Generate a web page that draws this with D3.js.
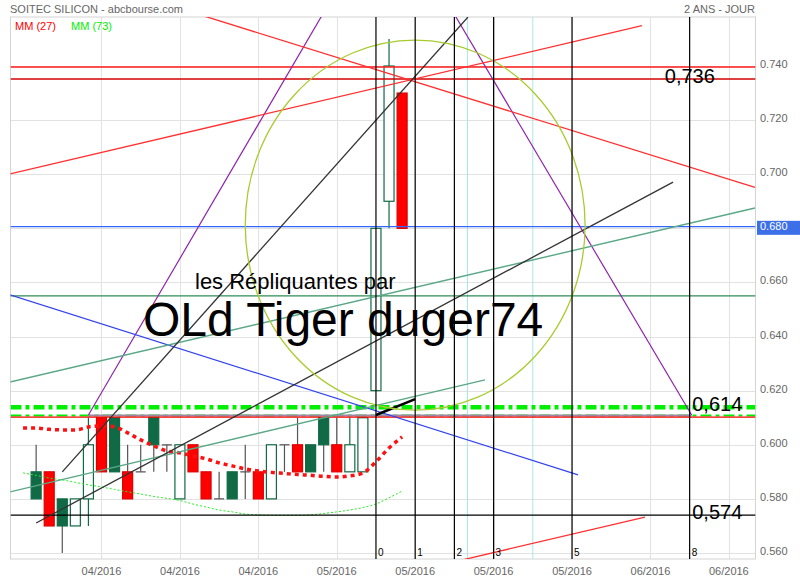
<!DOCTYPE html>
<html><head><meta charset="utf-8">
<script src="https://cdn.jsdelivr.net/npm/d3@7"></script>
<style>body{margin:0;background:#fff;} text{font-family:"Liberation Sans",Arial,sans-serif;}</style>
</head><body><svg id="c" width="800" height="580"></svg>
<script>
// ---------- data ----------
const title = "SOITEC SILICON - abcbourse.com";
const period = "2 ANS - JOUR";
const legendNames = ["MM (27)", "MM (73)"];
const openP  = [0.59,0.59,0.58,0.57,0.58,0.61,0.61,0.59,0.59,0.61,0.60,0.58,0.60,0.59,0.58,0.59,0.59,0.59,0.58,0.60,0.60,0.60,0.61,0.60,0.59,0.59,0.62,0.69,0.73];
const highP  = [0.60,0.59,0.58,0.58,0.61,0.61,0.61,0.60,0.60,0.61,0.60,0.60,0.60,0.59,0.59,0.59,0.60,0.59,0.60,0.60,0.61,0.60,0.61,0.61,0.61,0.61,0.68,0.75,0.73];
const lowP   = [0.58,0.57,0.56,0.57,0.57,0.59,0.59,0.58,0.59,0.59,0.59,0.58,0.59,0.58,0.58,0.58,0.58,0.58,0.58,0.59,0.59,0.59,0.59,0.59,0.59,0.59,0.62,0.68,0.68];
const closeP = [0.58,0.57,0.57,0.58,0.60,0.59,0.59,0.58,0.59,0.60,0.60,0.60,0.59,0.58,0.58,0.58,0.59,0.58,0.60,0.60,0.59,0.59,0.60,0.59,0.60,0.61,0.68,0.74,0.68];
const mmStart = -1;
const mm27 = [0.6062,0.6062,0.6057,0.6055,0.6055,0.6066,0.6070,0.6066,0.6044,0.6018,0.5996,0.5977,0.5970,0.5959,0.5948,0.5933,0.5922,0.5911,0.5903,0.5898,0.5894,0.5890,0.5887,0.5883,0.5881,0.5885,0.5896,0.5937,0.5988,0.6029];
const mm73 = [0.5896,0.5887,0.5877,0.5870,0.5861,0.5852,0.5844,0.5835,0.5826,0.5818,0.5809,0.5802,0.5794,0.5781,0.5770,0.5759,0.5752,0.5744,0.5741,0.5739,0.5739,0.5739,0.5741,0.5746,0.5752,0.5759,0.5768,0.5781,0.5804,0.5829];
const yTicks = [0.560,0.580,0.600,0.620,0.640,0.660,0.680,0.700,0.720,0.740];
const xTickIdx = [5,11,17,23,29,35,41,47,53];
const xTickLabels = ["04/2016","04/2016","04/2016","05/2016","05/2016","05/2016","05/2016","06/2016","06/2016"];
const fibIdx = [26,29,32,35,41,50];
const fibLabels = ["0","1","2","3","5","8"];
const cyanIdx = [33,38];
// horizontal levels
const lvlTop = 0.7396, lvl736 = 0.7352, lvlBlue = 0.6806, lvlGreen = 0.655;
const lvl614 = 0.6139, lvlThin = 0.6108, lvlRed = 0.6102, lvl574 = 0.574;
// trend segments [index, price]
const purpleUp   = [[4,0.611],[24,0.7763]];
const purpleDown = [[30,0.7754],[50.15,0.611]];
const purpleBase = [[4,0.6108],[50.15,0.6108]];
const redUp      = [[-2,0.7001],[46.35,0.7549]];
const redUpLow   = [[30.9,0.5555],[46.58,0.5733]];
const redDown    = [[8.7,0.7647],[55,0.6951]];
const blueDown   = [[-2,0.6554],[41.46,0.5889]];
const seaUpper   = [[-2,0.6232],[55,0.6875]];
const seaLower   = [[-2,0.5826],[34.34,0.6240]];
const blackSteep = [[2,0.590],[33.04,0.7581]];
const blackLong  = [[0,0.5711],[48.73,0.6971]];
const blackShort = [[26,0.611],[29,0.6169]];
const ellipseC = [29,0.6812], ellipseR = [13,0.0684];
const valueLabels = [["0,736",48.1,lvl736],["0,614",50.2,lvl614],["0,574",50.2,lvl574]];
const captions = ["les Répliquantes par","OLd Tiger duger74"];

// ---------- drawing ----------
const svg = d3.select("#c");
const L=10.5, R=755.5, T=17, B=559;
const x = d3.scaleLinear().domain([-2,55]).range([10,755]);
const y = d3.scaleLinear().domain([0.560,0.740]).range([553,66]);
const fmt = d3.format(".3f");

svg.append("defs").append("clipPath").attr("id","pc").append("rect")
  .attr("x",L).attr("y",T).attr("width",R-L).attr("height",B-T);

// gridlines
const grid = svg.append("g").attr("stroke","#e2e2e2").attr("stroke-width",1);
yTicks.forEach(v=>grid.append("line").attr("x1",L).attr("x2",R).attr("y1",Math.round(y(v))+0.5).attr("y2",Math.round(y(v))+0.5));
xTickIdx.forEach(i=>grid.append("line").attr("y1",T).attr("y2",B).attr("x1",Math.round(x(i))+0.5).attr("x2",Math.round(x(i))+0.5));
svg.append("rect").attr("x",L).attr("y",T).attr("width",R-L).attr("height",B-T)
  .attr("fill","none").attr("stroke","#d4d4d4");

// axes labels
yTicks.forEach(v=>svg.append("text").attr("x",760).attr("y",y(v)+2).attr("font-size",11).attr("fill","#666").text(fmt(v)));
xTickIdx.forEach((i,k)=>svg.append("text").attr("x",x(i)).attr("y",575).attr("text-anchor","middle").attr("font-size",11).attr("fill","#666").text(xTickLabels[k]));
// highlighted 0.680
svg.append("rect").attr("x",757).attr("y",y(0.680)-7.5).attr("width",43).attr("height",14).attr("fill","#3d6fe8");
svg.append("text").attr("x",760).attr("y",y(0.680)+2).attr("font-size",11).attr("fill","#fff").text(fmt(0.680));

// titles
svg.append("text").attr("x",10).attr("y",13).attr("font-size",11).attr("fill","#666").text(title);
svg.append("text").attr("x",755).attr("y",13).attr("text-anchor","end").attr("font-size",11).attr("fill","#666").text(period);
svg.append("text").attr("x",15).attr("y",30).attr("font-size",11).attr("fill","#ff0000").text(legendNames[0]);
svg.append("text").attr("x",71).attr("y",30).attr("font-size",11).attr("fill","#00ee00").text(legendNames[1]);

const plot = svg.append("g").attr("clip-path","url(#pc)");

// cyan verticals
cyanIdx.forEach(i=>plot.append("line").attr("x1",x(i)).attr("x2",x(i)).attr("y1",T).attr("y2",B).attr("stroke","#9fe4e4").attr("stroke-width",0.9));

// candles
const GREEN="#106a45", RED="#ff0000";
openP.forEach((o,i)=>{
  const c=closeP[i], h=highP[i], l=lowP[i], cx=x(i), w=10;
  let type;
  if (c===o) type="doji"; else if (c>o) type="hollow";
  else type=(i===0||c>=closeP[i-1])?"green":"red";
  const wickCol = type==="hollow"?GREEN:"#555";
  plot.append("line").attr("x1",cx).attr("x2",cx).attr("y1",y(h)).attr("y2",y(l)).attr("stroke",wickCol).attr("stroke-width",1.2);
  if (type==="doji") {
    plot.append("line").attr("x1",cx-w/2).attr("x2",cx+w/2).attr("y1",y(o)).attr("y2",y(o)).attr("stroke","#555").attr("stroke-width",1.2);
  } else {
    const top=y(Math.max(o,c)), bot=y(Math.min(o,c));
    plot.append("rect").attr("x",cx-w/2).attr("y",top).attr("width",w).attr("height",bot-top)
      .attr("fill", type==="hollow"?"#fff":(type==="green"?GREEN:RED))
      .attr("stroke", type==="red"?"#dd0000":GREEN).attr("stroke-width",1.2);
  }
});

// moving averages
const mmLine = d3.line().x((d,k)=>x(k+mmStart)).y(d=>y(d)).curve(d3.curveMonotoneX);
plot.append("path").attr("d",mmLine(mm73)).attr("fill","none").attr("stroke","#22ee22").attr("stroke-width",1).attr("stroke-dasharray","2,2");
plot.append("path").attr("d",mmLine(mm27)).attr("fill","none").attr("stroke","#ff1010").attr("stroke-width",3.5).attr("stroke-dasharray","4,4");

// horizontal levels
function hline(v,col,wd,dash){const l=plot.append("line").attr("x1",L).attr("x2",R).attr("y1",y(v)).attr("y2",y(v)).attr("stroke",col).attr("stroke-width",wd); if(dash) l.attr("stroke-dasharray",dash);}
hline(lvlTop,"#ff1a1a",1.5);
hline(lvl736,"#d40000",1.5);
hline(lvlBlue,"#3366ff",1.2);
hline(lvlGreen,"#2e8b57",1.2);
hline(lvl574,"#000",1.3);
hline(lvl614,"#00ee00",4.5,"11,4,4,4");
hline(lvlThin,"#00ee00",2,"11,4,4,4");

// segments
const seg = d3.line().x(d=>x(d[0])).y(d=>y(d[1]));
function sline(pts,col,wd){plot.append("path").attr("d",seg(pts)).attr("fill","none").attr("stroke",col).attr("stroke-width",wd);}
sline(purpleBase,"#a284a8",2);
hline(lvlRed,"#ff0000",1.3);
sline(purpleUp,"#8e24aa",1.2);
sline(purpleDown,"#8e24aa",1.2);
sline(redUp,"#ff3030",1.3);
sline(redUpLow,"#ff3030",1.3);
sline(redDown,"#ff3030",1.3);
sline(blueDown,"#3344ee",1.2);
sline(seaUpper,"#5aa888",1.4);
sline(seaLower,"#5aa888",1.4);
sline(blackSteep,"#333",1.3);
sline(blackLong,"#333",1.3);
sline(blackShort,"#000",2.5);

// ellipse
plot.append("ellipse").attr("cx",x(ellipseC[0])).attr("cy",y(ellipseC[1]))
  .attr("rx",x(ellipseC[0]+ellipseR[0])-x(ellipseC[0])).attr("ry",y(ellipseC[1]-ellipseR[1])-y(ellipseC[1]))
  .attr("fill","none").attr("stroke","#a8cc30").attr("stroke-width",1.3);

// fib verticals
fibIdx.forEach((i,k)=>{
  plot.append("line").attr("x1",x(i)).attr("x2",x(i)).attr("y1",T).attr("y2",B).attr("stroke","#000").attr("stroke-width",1.2);
  plot.append("text").attr("x",x(i)+2).attr("y",556).attr("font-size",10).attr("fill","#000").text(fibLabels[k]);
});

// value labels
valueLabels.forEach(d=>svg.append("text").attr("x",x(d[1])).attr("y",y(d[2])+4).attr("font-size",20).attr("fill","#000").text(d[0]));

// captions
svg.append("text").attr("x",195).attr("y",289).attr("font-size",22).attr("fill","#000").text(captions[0]);
svg.append("text").attr("x",143).attr("y",336).attr("font-size",48).attr("fill","#000").text(captions[1]);
</script></body></html>
